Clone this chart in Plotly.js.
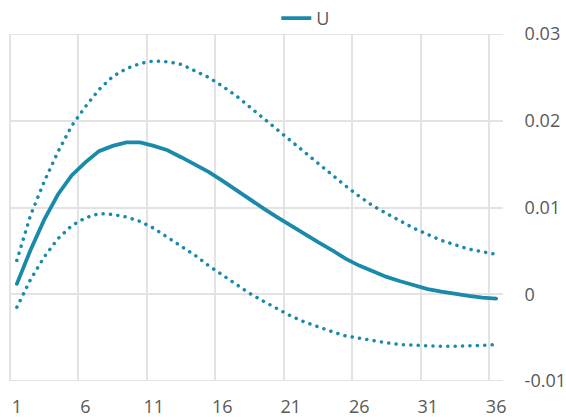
<!DOCTYPE html>
<html>
<head>
<meta charset="utf-8">
<script src="https://cdn.plot.ly/plotly-3.0.1.min.js"></script>
<style>
html, body { margin: 0; padding: 0; background: #fff; }
#chart { width: 566px; height: 417px; }
.scatterlayer .js-line { stroke-linecap: round !important; }
</style>
</head>
<body>
<div id="chart"></div>
<script>
const periods = [1,2,3,4,5,6,7,8,9,10,11,12,13,14,15,16,17,18,19,20,21,22,23,24,25,26,27,28,29,30,31,32,33,34,35,36];
const uValues = [0.0012,0.0051,0.0086,0.0115,0.0137,0.0152,0.0165,0.0171,0.0175,0.0175,0.0171,0.0166,0.0158,0.0150,0.0141,0.0131,0.0120,0.0109,0.0099,0.0089,0.0079,0.0069,0.0060,0.0051,0.0041,0.0033,0.0026,0.0020,0.0015,0.0010,0.0006,0.0003,0.0000,-0.0002,-0.0004,-0.0005];
const upperBand = [0.0039,0.0091,0.0130,0.0164,0.0194,0.0216,0.0236,0.0251,0.0260,0.0266,0.0269,0.0268,0.0265,0.0258,0.0250,0.0240,0.0229,0.0216,0.0203,0.0190,0.0177,0.0163,0.0150,0.0137,0.0125,0.0113,0.0102,0.0093,0.0084,0.0076,0.0069,0.0062,0.0057,0.0052,0.0049,0.0046];
const lowerBand = [-0.0015,0.0017,0.0043,0.0064,0.0079,0.0088,0.0093,0.0092,0.0089,0.0084,0.0076,0.0066,0.0055,0.0045,0.0033,0.0022,0.0011,0.0001,-0.0008,-0.0017,-0.0025,-0.0032,-0.0038,-0.0043,-0.0048,-0.0051,-0.0054,-0.0056,-0.0058,-0.0059,-0.0060,-0.0060,-0.0060,-0.0059,-0.0059,-0.0058];
const xTickVals = [1,6,11,16,21,26,31,36];
const xTickText = ["1","6","11","16","21","26","31","36"];
const yTickVals = [-0.01,0,0.01,0.02,0.03];
const yTickText = ["-0.01","0","0.01","0.02","0.03"];
const seriesName = "U";

const color = "#1a8aab";
const txt = "#595959";
const grid = "#e3e3e3";

const traces = [
  {x: periods, y: upperBand, mode: "lines", line: {color: color, width: 3.5, dash: "0.1px,7.3px"}, showlegend: false, hoverinfo: "skip"},
  {x: periods, y: lowerBand, mode: "lines", line: {color: color, width: 3.5, dash: "0.1px,7.3px"}, showlegend: false, hoverinfo: "skip"},
  {x: periods, y: uValues, name: seriesName, mode: "lines", line: {color: color, width: 3.8}, showlegend: true}
];

const yMin = yTickVals[0], yMax = yTickVals[yTickVals.length - 1];
const edgeLines = [
  {type: "line", layer: "below", xref: "paper", yref: "y", x0: 0, x1: 1, y0: yMax, y1: yMax, line: {color: grid, width: 2}},
  {type: "line", layer: "below", xref: "paper", yref: "y", x0: 0, x1: 1, y0: yMin, y1: yMin, line: {color: grid, width: 2}},
  {type: "line", layer: "below", xref: "paper", yref: "paper", x0: 0, x1: 0, y0: 0, y1: 1, line: {color: grid, width: 2}}
];

const layout = {
  width: 566, height: 417,
  margin: {l: 10, r: 63, t: 34, b: 36, autoexpand: false},
  paper_bgcolor: "#fff", plot_bgcolor: "#fff",
  font: {family: "Open Sans, sans-serif", size: 18, color: txt},
  showlegend: true,
  legend: {orientation: "h", x: 0.6, xanchor: "center", y: 1.0, yref: "container", yanchor: "top", font: {size: 18, color: txt}, bgcolor: "rgba(0,0,0,0)"},
  shapes: edgeLines,
  xaxis: {
    range: [0.5, 36.5], tickmode: "array", tickvals: xTickVals, ticktext: xTickText,
    showgrid: false, zeroline: false, showline: false,
    ticks: "outside", ticklen: 9, tickcolor: "rgba(0,0,0,0)",
    minor: {tick0: 0.5, dtick: 5, showgrid: true, gridcolor: grid, gridwidth: 2, ticks: ""}
  },
  yaxis: {
    side: "right", range: [yMin, yMax], tickmode: "array", tickvals: yTickVals, ticktext: yTickText,
    showgrid: true, gridcolor: grid, gridwidth: 2, zeroline: false, showline: false,
    ticks: "outside", ticklen: 17, tickcolor: "rgba(0,0,0,0)"
  }
};

Plotly.newPlot("chart", traces, layout, {displayModeBar: false, staticPlot: true});
</script>
</body>
</html>
